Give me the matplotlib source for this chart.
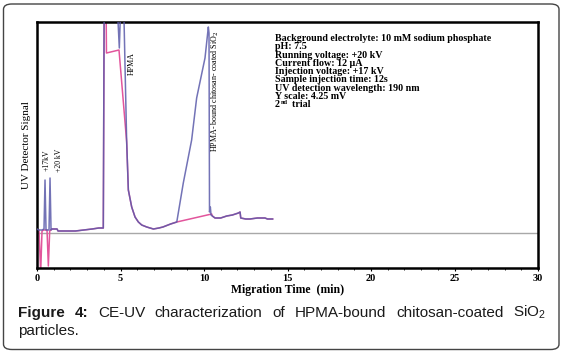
import matplotlib
matplotlib.use("Agg")
import matplotlib.pyplot as plt
from matplotlib.patches import FancyBboxPatch
from matplotlib.ticker import MultipleLocator

# ---------------- data (signal in arbitrary detector units, baseline = 0) ----------------
blue_t = [0, 0.1, 0.3, 0.42, 0.48, 0.54, 0.62, 0.72, 0.78, 0.84, 0.9, 1.2, 1.26, 1.6, 2.0,
          2.3, 2.8, 3.3, 3.7, 3.97, 4.03, 4.71, 4.93, 5.07, 5.15, 5.37, 5.47, 5.67, 5.87,
          6.07, 6.27, 6.57, 6.97, 7.3, 7.54, 8.0, 8.37, 8.76, 9.26, 9.56, 9.76, 10.06,
          10.26, 10.30, 10.33, 10.38, 10.42, 10.5, 10.66, 11.0, 11.36, 11.7, 12.06, 12.16,
          12.2, 12.5, 12.75, 13.2, 13.65, 13.8, 14.11]
blue_v = [4, 3, 3, 4, 53, 3, 3, 3, 55, 3, 4, 4, 2, 2, 2,
          2, 3, 4, 5, 5, 260, 260, 185, 260, 260, 91, 43, 26, 16,
          11, 8, 6, 4, 5, 6, 9, 11, 50, 93, 135, 151, 175,
          206, 200, 21, 26, 18, 17, 15, 15, 17, 18, 20, 21,
          15, 14, 14, 15, 15, 14, 14]

pink_t = [0, 0.12, 0.22, 0.3, 0.4, 0.6, 0.68, 0.76, 0.9, 1.2, 1.26, 1.6, 2.0,
          2.3, 2.8, 3.3, 3.7, 3.97, 4.03, 4.12, 4.16, 4.91, 5.37, 5.47, 5.67, 5.87,
          6.07, 6.27, 6.57, 6.97, 7.3, 7.54, 8.0, 8.37, 10.46, 10.5, 10.66, 11.0, 11.36,
          11.7, 12.06, 12.16, 12.2, 12.5, 12.75, 13.2, 13.65, 13.8, 14.11]
pink_v = [4, 3, -40, 2, 3, 3, -33, 2, 4, 4, 2, 2, 2,
          2, 3, 4, 5, 5, 260, 260, 180, 183, 91, 43, 26, 16,
          11, 8, 6, 4, 5, 6, 9, 11, 19, 17, 15, 15, 17,
          18, 20, 21, 15, 14, 14, 15, 15, 14, 14]

x_ticks = [0, 5, 10, 15, 20, 25, 30]

conditions = [
    "Background electrolyte: 10 mM sodium phosphate",
    "pH: 7.5",
    "Running voltage: +20 kV",
    "Current flow: 12 \u00b5A",
    "Injection voltage: +17 kV",
    "Sample injection time: 12s",
    "UV detection wavelength: 190 nm",
    "Y scale: 4.25 mV",
]
trial_parts = ["2", "nd", "  trial"]

caption_words = ["Figure", "4:", "CE-UV", "characterization", "of", "HPMA-bound",
                 "chitosan-coated", "SiO$_2$"]
caption_bold = [True, True, False, False, False, False, False, False]

# ---------------- figure ----------------
W, H = 564, 354
plt.rcParams['mathtext.fontset'] = 'custom'
plt.rcParams['mathtext.rm'] = 'Liberation Sans'
plt.rcParams['mathtext.it'] = 'Liberation Sans:italic'
plt.rcParams['mathtext.bf'] = 'Liberation Sans:bold'

fig = plt.figure(figsize=(W / 100, H / 100), dpi=100)
fig.patch.set_facecolor("white")

# outer rounded frame
frame = FancyBboxPatch((3.5 / W, 4.5 / H), (559 - 3.5) / W, (350 - 4.5) / H,
                       boxstyle="round,pad=0,rounding_size=0.015",
                       transform=fig.transFigure, facecolor="none",
                       edgecolor="#444444", linewidth=1.0)
fig.patches.append(frame)

ax_l, ax_r, ax_t, ax_b = 37, 538, 22, 268
ax = fig.add_axes([ax_l / W, 1 - ax_b / H, (ax_r - ax_l) / W, (ax_b - ax_t) / H])
ax.set_xlim(0, 30)
ax.set_ylim(-35, 211)

ax.axhline(0, color="#a8a8a8", lw=1.0, zorder=1)
ax.plot(pink_t, pink_v, color="#e2559c", lw=1.1, zorder=2)
ax.plot(blue_t, blue_v, color="#5a5aaa", lw=1.1, alpha=0.85, zorder=3)

for s in ax.spines.values():
    s.set_linewidth(1.8)
    s.set_color("black")

serif = "Liberation Serif"
ax.set_yticks([])
ax.set_xticks(x_ticks)
ax.xaxis.set_minor_locator(MultipleLocator(1))
ax.tick_params(axis="x", which="major", length=2.5, width=0.8, pad=2, direction="out")
ax.tick_params(axis="x", which="minor", length=1.5, width=0.6, direction="out")
for lab in ax.get_xticklabels():
    lab.set_fontfamily(serif)
    lab.set_fontweight("bold")
    lab.set_fontsize(7.5)
ax.set_xlabel("Migration Time  (min)", fontfamily=serif, fontweight="bold",
              fontsize=8.5, labelpad=0.5)
ax.set_ylabel("UV Detector Signal", fontfamily=serif, fontsize=8, labelpad=4)

# peak annotations
ax.text(0.58, 73, "+17kV", rotation=90, ha="center", va="center", fontfamily=serif,
        fontsize=5.5)
ax.text(1.3, 73, "+20 kV", rotation=90, ha="center", va="center", fontfamily=serif,
        fontsize=5.5)
ax.text(5.66, 169, "HPMA", rotation=90, ha="center", va="center", fontfamily=serif,
        fontsize=5.8)
ax.text(10.66, 142, "HPMA- bound chitosan- coated SiO$_2$", rotation=90, ha="center",
        va="center", fontfamily=serif, fontsize=5.8,
        math_fontfamily="dejavuserif")

# conditions block
renderer = fig.canvas.get_renderer()
y0 = 1 - 38.5 / H
dy = 8.3 / H
cond_fs = 7.2
for i, line in enumerate(conditions):
    fig.text(275 / W, y0 - i * dy, line, fontfamily=serif, fontweight="bold",
             fontsize=cond_fs, va="center", ha="left")
yt = y0 - len(conditions) * dy
t2 = fig.text(275 / W, yt, trial_parts[0], fontfamily=serif, fontweight="bold",
              fontsize=cond_fs, va="center", ha="left")
x2 = 275 / W + t2.get_window_extent(renderer).width / W
tnd = fig.text(x2 + 0.5 / W, yt + 2.5 / H, trial_parts[1], fontfamily=serif,
               fontweight="bold", fontsize=4.5, va="center", ha="left")
x3 = x2 + 0.5 / W + tnd.get_window_extent(renderer).width / W
fig.text(x3, yt, trial_parts[2], fontfamily=serif, fontweight="bold",
         fontsize=cond_fs, va="center", ha="left")

# caption (justified first line)
cap_color = "#1a1a1a"
x_left, x_right = 18 / W, 546 / W
line1_y = 1 - 317 / H
texts = []
for w, b in zip(caption_words, caption_bold):
    t = fig.text(0, line1_y, w, fontfamily="Liberation Sans", fontsize=11,
                 fontweight="bold" if b else "normal", color=cap_color, va="baseline")
    texts.append(t)
widths = [t.get_window_extent(renderer).width / W for t in texts]
gap = (x_right - x_left - sum(widths)) / (len(texts) - 1)
x = x_left
for t, wd in zip(texts, widths):
    t.set_x(x)
    x += wd + gap
fig.text(x_left, 1 - 335 / H, "particles.", fontfamily="Liberation Sans", fontsize=11,
         color=cap_color, va="baseline")

fig.savefig("out.png", dpi=100)
